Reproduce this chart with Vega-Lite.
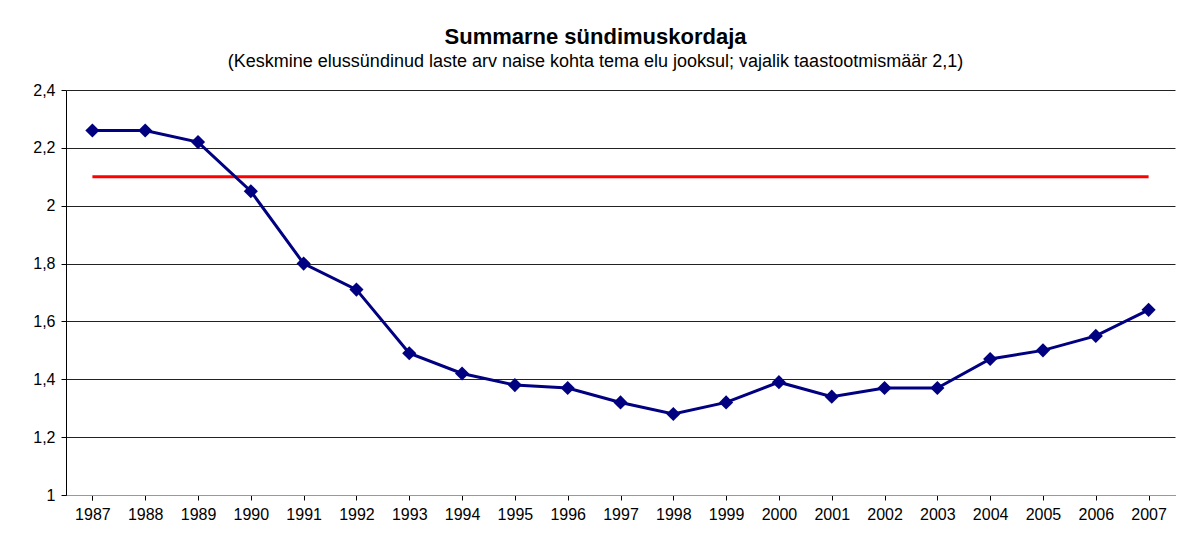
{
  "$schema": "https://vega.github.io/schema/vega-lite/v6.json",
  "width": 1109,
  "height": 405,
  "autosize": {"type": "none"},
  "padding": {"left": 66, "top": 90, "right": 14, "bottom": 43},
  "background": "white",
  "config": {
    "font": "Liberation Sans",
    "view": {"stroke": null},
    "axis": {"labelFont": "Liberation Sans", "labelFontSize": 16, "labelColor": "#000"}
  },
  "title": {
    "text": "Summarne sündimuskordaja",
    "subtitle": "(Keskmine elussündinud laste arv naise kohta tema elu jooksul; vajalik taastootmismäär 2,1)",
    "anchor": "middle",
    "dx": -25,
    "offset": 10,
    "font": "Liberation Sans",
    "fontSize": 22,
    "fontWeight": "bold",
    "color": "#000",
    "subtitleFont": "Liberation Sans",
    "subtitleFontSize": 18,
    "subtitleColor": "#000",
    "subtitlePadding": 4
  },
  "data": {
    "values": [
      {"year": "1987", "value": 2.26, "target": 2.1},
      {"year": "1988", "value": 2.26, "target": 2.1},
      {"year": "1989", "value": 2.22, "target": 2.1},
      {"year": "1990", "value": 2.05, "target": 2.1},
      {"year": "1991", "value": 1.80, "target": 2.1},
      {"year": "1992", "value": 1.71, "target": 2.1},
      {"year": "1993", "value": 1.49, "target": 2.1},
      {"year": "1994", "value": 1.42, "target": 2.1},
      {"year": "1995", "value": 1.38, "target": 2.1},
      {"year": "1996", "value": 1.37, "target": 2.1},
      {"year": "1997", "value": 1.32, "target": 2.1},
      {"year": "1998", "value": 1.28, "target": 2.1},
      {"year": "1999", "value": 1.32, "target": 2.1},
      {"year": "2000", "value": 1.39, "target": 2.1},
      {"year": "2001", "value": 1.34, "target": 2.1},
      {"year": "2002", "value": 1.37, "target": 2.1},
      {"year": "2003", "value": 1.37, "target": 2.1},
      {"year": "2004", "value": 1.47, "target": 2.1},
      {"year": "2005", "value": 1.50, "target": 2.1},
      {"year": "2006", "value": 1.55, "target": 2.1},
      {"year": "2007", "value": 1.64, "target": 2.1}
    ]
  },
  "encoding": {
    "x": {
      "field": "year",
      "type": "ordinal",
      "scale": {"type": "point", "padding": 0.5},
      "axis": {
        "title": null,
        "labelAngle": 0,
        "labelPadding": 6,
        "domainColor": "#999",
        "tickColor": "#000",
        "tickBand": "extent",
        "tickSize": 5,
        "grid": false
      }
    }
  },
  "layer": [
    {
      "mark": {"type": "line", "color": "#ff0000", "strokeWidth": 3},
      "encoding": {
        "y": {
          "field": "target",
          "type": "quantitative",
          "scale": {"domain": [1, 2.4], "nice": false, "zero": false},
          "axis": {
            "title": null,
            "values": [1, 1.2, 1.4, 1.6, 1.8, 2, 2.2, 2.4],
            "labelExpr": "replace(toString(datum.value), '.', ',')",
            "labelPadding": 6,
            "grid": true,
            "gridColor": "#222",
            "gridWidth": 1,
            "domainColor": "#000",
            "tickColor": "#000",
            "tickSize": 5
          }
        }
      }
    },
    {
      "mark": {
        "type": "line",
        "color": "#000080",
        "strokeWidth": 3,
        "point": {"shape": "diamond", "size": 200, "filled": true, "color": "#000080"}
      },
      "encoding": {
        "y": {"field": "value", "type": "quantitative"}
      }
    }
  ]
}
